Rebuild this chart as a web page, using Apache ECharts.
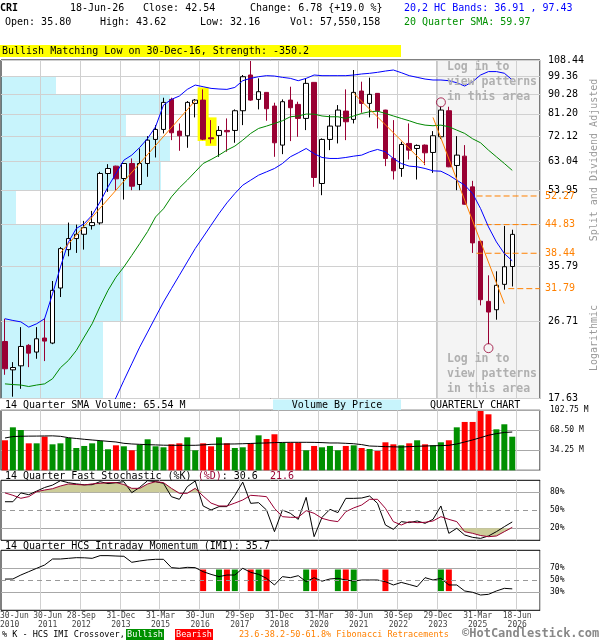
<!DOCTYPE html>
<html><head><meta charset="utf-8">
<script src="https://cdn.jsdelivr.net/npm/echarts@6.0.0/dist/echarts.min.js"></script>
<style>html,body{margin:0;padding:0;background:#fff;}#chart{width:600px;height:640px;}</style>
</head><body><div id="chart"></div>
<script>
// ---------------- DATA ----------------
const categories = ['30-Jun-10','30-Sep-10','31-Dec-10','31-Mar-11','30-Jun-11','30-Sep-11','30-Dec-11','30-Mar-12','29-Jun-12','28-Sep-12',
 '31-Dec-12','28-Mar-13','28-Jun-13','30-Sep-13','31-Dec-13','31-Mar-14','30-Jun-14','30-Sep-14','31-Dec-14','31-Mar-15',
 '30-Jun-15','30-Sep-15','31-Dec-15','31-Mar-16','30-Jun-16','30-Sep-16','30-Dec-16','31-Mar-17','30-Jun-17','29-Sep-17',
 '29-Dec-17','29-Mar-18','29-Jun-18','28-Sep-18','31-Dec-18','29-Mar-19','28-Jun-19','30-Sep-19','31-Dec-19','31-Mar-20',
 '30-Jun-20','30-Sep-20','31-Dec-20','31-Mar-21','30-Jun-21','30-Sep-21','31-Dec-21','31-Mar-22','30-Jun-22','30-Sep-22',
 '30-Dec-22','31-Mar-23','30-Jun-23','29-Sep-23','29-Dec-23','28-Mar-24','28-Jun-24','30-Sep-24','31-Dec-24','31-Mar-25',
 '30-Jun-25','30-Sep-25','31-Dec-25','31-Mar-26','18-Jun-26'];
const padCategories = ['p1','p2','p3'];
const labelIdx = [0,4,9,14,19,24,29,34,39,44,49,54,59,64];
const gridIdx = [4,9,14,19,24,29,34,39,44,49,54,59,64];

const open  = [23.94,20.56,21.01,23.45,22.62,24.39,23.74,31.90,39.20,41.59,42.56,44.59,45.24,58.97,61.35,57.41,62.23,55.59,62.23,70.80,74.71,87.77,74.04,72.21,85.91,87.45,71.43,72.34,74.30,74.30,82.59,100.05,87.77,91.14,84.69,68.68,87.45,85.45,79.26,96.17,55.89,70.80,76.06,82.44,78.84,91.80,85.91,90.66,82.89,63.93,60.58,69.30,67.45,68.68,66.02,71.82,82.59,61.57,64.73,54.89,40.99,29.69,28.39,32.53,35.80];
const close = [20.68,20.82,23.31,22.49,24.29,23.99,31.50,39.41,41.59,42.56,44.11,45.32,58.97,60.58,57.31,62.23,55.09,62.23,70.54,74.71,86.37,73.38,72.21,86.37,87.45,70.92,71.05,74.30,73.77,82.59,99.15,87.45,91.47,83.48,69.54,86.69,83.94,79.26,95.66,57.72,70.80,76.06,82.89,77.85,91.14,85.91,90.17,82.59,63.93,59.83,68.92,66.85,68.56,65.90,72.21,82.89,61.13,65.09,50.01,40.64,29.96,28.04,32.36,35.76,42.54];
const low   = [20.02,17.8,18.57,20.86,21.82,21.55,23.6,30.39,37.82,38.51,39.20,43.65,44.83,53.44,53.92,51.28,53.92,53.92,57.93,64.27,73.12,70.54,66.62,67.70,79.69,70.54,69.30,64.50,66.26,69.54,76.46,87.14,83.19,78.26,64.50,65.43,70.17,71.82,74.44,54.89,52.49,66.85,69.30,70.54,77.15,81.71,79.69,75.11,61.35,57.10,57.93,63.58,57.10,61.68,59.18,71.0,61.0,53.92,49.9,38.51,29.06,23.6,26.91,31.61,32.16];
const high  = [27.05,21.43,25.86,23.6,25.86,27.14,33.12,39.76,45.32,44.83,45.73,48.25,59.50,62.01,61.5,62.4,63.93,67.45,72.07,76.46,88.56,88.56,77.15,86.99,87.94,92.62,78.54,76.06,79.26,83.19,100.05,107.86,98.27,91.3,86.22,87.77,93.96,86.69,98.27,96.3,71.2,80.69,85.14,92.62,102.77,96.52,98.62,90.8,83.0,78.54,69.92,77.15,68.92,68.92,74.04,84.39,84.39,72.07,68.68,56.69,41.1,34.15,34.89,44.51,43.62];

const upperBand = [27.05,26.8,26.6,25.86,26.33,27.05,30.9,35.7,40.8,43.89,45.06,47.14,50.64,54.89,58.97,63.35,65.09,67.82,71.18,75.79,85.14,87.77,89.37,92.62,94.8,93.96,93.12,92.8,92.62,93.6,97.04,98.27,99.15,99.7,99.5,98.8,98.27,97.04,98.27,100.05,99.7,99.7,99.7,99.7,100.05,100.6,100.96,101.5,102.2,102.77,101.3,99.7,98.8,97.9,97.4,97.4,97.04,96.0,94.3,96.52,100.05,101.9,101.9,101.0,97.43];
const lowerBand = [null,null,null,null,null,null,null,null,null,null,null,null,null,16.5,17.7,19.42,21.24,23.23,25.18,27.30,29.58,31.79,34.15,36.69,39.41,41.95,44.67,47.56,50.37,52.96,55.39,56.9,58.45,59.5,60.58,62.2,64.5,65.9,67.45,65.6,64.27,63.93,63.93,64.27,64.73,65.09,66.26,67.1,66.26,63.93,62.23,61.35,61.13,60.58,59.83,59.7,58.45,56.9,55.39,52.96,48.86,44.28,40.85,38.37,36.91];
const sma20 = [19.07,19.0,18.95,18.8,18.95,19.07,19.6,20.8,21.62,22.81,24.52,26.33,28.9,31.5,33.8,35.71,38.0,40.48,43.2,46.71,48.8,52.02,54.6,56.9,59.5,62.23,63.58,65.09,66.85,68.31,70.54,73.12,75.11,76.06,77.15,78.26,79.96,80.3,81.12,81.1,80.3,79.96,79.96,79.26,80.3,81.4,82.14,82.4,81.4,80.3,79.26,78.26,77.15,76.46,76.2,76.46,75.79,74.44,73.12,71.05,69.54,66.85,64.5,62.23,59.97];

const trendLines = [[[7,38.51],[24,87.14]], [[44,90.66],[53,62.0]], [[54,79.69],[63,29.33]]];
const fibLevels = [52.27, 44.83, 38.44, 31.79];
const fibStart  = [59, 59, 59, 63];
const patternCircles = [[55, 86.4], [61, 23.1]];
const highlightBoxes = [[25, 93.6, 70.2], [26, 79.7, 68.4]];
const loginStart = 55;

const priceGrid   = [17.63, 26.71, 35.79, 44.87, 53.95, 63.04, 72.12, 81.20, 90.28, 99.36, 108.44];
const priceLabels = [17.63, 26.71, 35.79, 53.95, 63.04, 72.12, 81.20, 90.28, 99.36, 108.44];
const vbpVolume = [102, 122, 99, 15, 160, 169, 125, 169, 55, 0];   // relative volume per price bin

const volume = [51.4,73.6,69.0,46.2,46.2,57.7,44.5,46.2,55.4,38.2,41.7,46.2,50.2,36.0,42.8,41.1,34.25,44.0,53.1,41.1,39.4,44.5,46.2,56.5,34.25,46.2,41.1,56.5,46.2,38.2,39.4,46.2,59.9,53.6,61.7,47.4,47.4,47.4,34.25,41.7,39.4,41.7,34.25,41.7,42.8,38.2,36.5,33.1,47.95,44.5,42.8,46.2,51.4,44.5,42.8,47.95,51.4,73.6,82.8,82.8,101.6,95.9,70.2,78.8,57.55];
const volSma = [55.3,57.8,58.3,58.5,58.6,58.8,59.0,58.2,55.9,54.5,53.1,51.9,50.8,49.6,48.5,46.2,45.1,44.5,43.9,43.5,43.0,42.8,42.8,42.8,42.8,43.5,44.5,44.8,45.0,45.1,45.5,46.0,46.5,46.8,47.4,47.7,47.95,47.95,47.95,47.8,47.4,46.8,46.8,46.2,45.5,44.0,41.6,41.1,40.5,40.2,39.9,40.5,41.1,41.6,42.0,42.3,42.8,45.1,48.5,52.0,56.0,60.0,62.8,64.8,65.54];

const stochK = [64.3,64.3,79,76,82,88,92,99.4,96,94,92.5,92.7,97.7,94.5,96,97.7,79.4,88.3,99.4,97.7,95,72.7,68.3,89.4,98.8,57.2,50.5,56.1,56.1,75,97,61.6,62.7,50.5,14.4,50.5,45,34.9,71.6,6,38.3,51.6,46.1,69.9,69.9,70.5,73.8,61.6,25.5,18.3,31.1,29.4,32.2,28.3,34.9,57.2,11.6,20,8.8,4.9,3.2,7.2,14.4,22.7,30.6];
const stochD = [79,75,70,72.8,81,83.8,86,90.5,93.9,93,92.2,94,95,96.1,96.1,93,86.6,86.6,93.9,97.7,96.1,86.6,78.3,78.3,86.6,73.8,62,57.2,57.2,62,67.2,75,74,72.7,53.3,39.4,38.3,38.3,49.4,45,36.6,33,31.1,47.7,54,58.8,68.3,68.3,53.3,31.1,25.5,31.1,29.4,30,32.2,39.4,34.9,31.1,14.4,11.6,8,6,7.2,14.4,21.6];

const imi = [52,52.2,58.8,64.4,70,75.5,85.5,85.5,86.6,87.7,87.5,86.6,91.1,91.1,90.5,90,80,82.2,84,85,85,71.1,70,71.6,71.1,64.4,59.9,56.1,58.8,58.8,70,63.3,59.9,53.3,42.2,56.1,54.4,57.7,47.7,54.4,48.5,52.2,53.3,50.5,48.8,50.5,50.5,50.5,47.7,42.2,46.5,43,39.4,54.4,50.5,53.3,42.2,42.2,32.2,30,25.5,26.6,32.2,36.6,35.7];
const bullishX = [27,29,32,38,42,44,55];
const bearishX = [25,28,31,33,39,43,48,56];

// ---------------- CHART ----------------
const MONO = '"DejaVu Sans Mono", monospace';
const allCats = categories.concat(padCategories);
const gridSet = new Set(gridIdx);
const RED = '#990033';

function xAxisFor(gi) {
  return {
    type: 'category', gridIndex: gi, data: allCats, boundaryGap: true,
    axisLine: {show: false}, axisTick: {show: false}, axisLabel: {show: false},
    splitLine: {show: true, interval: (idx) => gridSet.has(idx - 1), lineStyle: {color: '#d0d0d0', width: 1}}
  };
}

function txt(x, y, text, fill, size, weight, align) {
  return {type: 'text', x: x, y: y, z: 100, silent: true,
    style: {text: text, fill: fill || '#000', font: (weight || 'normal') + ' ' + (size || 10) + 'px ' + MONO,
      verticalAlign: 'middle', align: align || 'left'}};
}

const candleData = open.map((o, i) => [o, close[i], low[i], high[i]]);
const volData = volume.map((v, i) => ({value: v, itemStyle: {color: close[i] >= open[i] ? '#009000' : '#ff0000'}}));
const vbpData = vbpVolume.map((v, i) => [0, priceGrid[i], priceGrid[i + 1], v]);
const vbpMax = Math.max.apply(null, vbpVolume);

const graphics = [
  txt(0, 8, 'CRI', '#000', 10, 'bold'),
  txt(70, 8, '18-Jun-26'),
  txt(143, 8, 'Close: 42.54'),
  txt(250, 8, 'Change: 6.78 {+19.0 %}'),
  txt(404, 8, '20,2 HC Bands: 36.91 , 97.43', '#0000ff'),
  txt(5, 22, 'Open: 35.80'),
  txt(100, 22, 'High: 43.62'),
  txt(200, 22, 'Low: 32.16'),
  txt(290, 22, 'Vol: 57,550,158'),
  txt(404, 22, '20 Quarter SMA: 59.97', '#009000'),
  {type: 'rect', z: 99, silent: true, shape: {x: 0, y: 45, width: 401, height: 12}, style: {fill: '#ffff00'}},
  txt(2, 51, 'Bullish Matching Low on 30-Dec-16, Strength: -350.2'),
  txt(447, 67, 'Log in to', '#b0b0b0', 11.5, 'bold'),
  txt(447, 82, 'view patterns', '#b0b0b0', 11.5, 'bold'),
  txt(447, 97, 'in this area', '#b0b0b0', 11.5, 'bold'),
  txt(447, 359, 'Log in to', '#b0b0b0', 11.5, 'bold'),
  txt(447, 374, 'view patterns', '#b0b0b0', 11.5, 'bold'),
  txt(447, 389, 'in this area', '#b0b0b0', 11.5, 'bold'),
  {type: 'text', x: 594, y: 160, rotation: Math.PI / 2, z: 100, silent: true,
    style: {text: 'Split and Dividend Adjusted', fill: '#999', font: '10px ' + MONO, align: 'center', verticalAlign: 'middle'}},
  {type: 'text', x: 594, y: 338, rotation: Math.PI / 2, z: 100, silent: true,
    style: {text: 'Logarithmic', fill: '#999', font: '10px ' + MONO, align: 'center', verticalAlign: 'middle'}},
  txt(5, 405, '14 Quarter SMA Volume: 65.54 M'),
  {type: 'rect', z: 99, silent: true, shape: {x: 273, y: 399.5, width: 128, height: 10.5}, style: {fill: '#c8f4fc'}},
  txt(337, 405, 'Volume By Price', '#000', 10, 'normal', 'center'),
  txt(430, 405, 'QUARTERLY CHART'),
  {type: 'text', x: 5, y: 476, z: 100, silent: true, style: {
    text: '{a|14 Quarter Fast Stochastic (%K) }{b|(%D)}{a|: 30.6  }{b|21.6}',
    font: '10px ' + MONO, verticalAlign: 'middle', align: 'left',
    rich: {a: {fill: '#000', font: '10px ' + MONO}, b: {fill: RED, font: '10px ' + MONO}}}},
  txt(5, 546, '14 Quarter HCS Intraday Momentum (IMI): 35.7'),
  txt(2, 635, '% K - HCS IMI Crossover,', '#000', 8.5),
  {type: 'rect', z: 99, silent: true, shape: {x: 126, y: 629, width: 38, height: 11}, style: {fill: '#009000'}},
  txt(145, 635, 'Bullish', '#fff', 8.5, 'normal', 'center'),
  {type: 'rect', z: 99, silent: true, shape: {x: 175, y: 629, width: 38, height: 11}, style: {fill: '#ff0000'}},
  txt(194, 635, 'Bearish', '#fff', 8.5, 'normal', 'center'),
  txt(239, 635, '23.6-38.2-50-61.8% Fibonacci Retracements', '#ff8000', 8.5),
  txt(462, 634, '\u00A9HotCandlestick.com', '#888', 12, 'bold')
];

const gridBase = {left: 1, width: 539, show: true, borderColor: '#000', borderWidth: 1, outerBoundsMode: 'none', containLabel: false};

const option = {
  animation: false,
  backgroundColor: '#fff',
  graphic: graphics,
  grid: [
    Object.assign({top: 60, height: 338.5}, gridBase),
    Object.assign({top: 410.3, height: 60}, gridBase),
    Object.assign({top: 480.3, height: 60}, gridBase),
    Object.assign({top: 550.3, height: 60}, gridBase)
  ],
  xAxis: [xAxisFor(0), xAxisFor(1), xAxisFor(2), xAxisFor(3)],
  yAxis: [
    {type: 'log', gridIndex: 0, position: 'right', min: 17.63, max: 108.44, logBase: 10,
      axisLine: {show: false}, axisTick: {show: false, customValues: priceGrid},
      axisLabel: {customValues: priceLabels, formatter: (v) => Number(v).toFixed(2), color: '#000',
        fontFamily: MONO, fontSize: 10, margin: 8, padding: [0, 0, 6, 0]},
      splitLine: {show: true, lineStyle: {color: '#d0d0d0', width: 1}}},
    {type: 'value', gridIndex: 1, position: 'right', min: 0, max: 102.75, interval: 34.25,
      axisLine: {show: false}, axisTick: {show: false},
      axisLabel: {formatter: (v) => v === 0 ? '' : v.toFixed(2) + ' M', fontSize: 8, fontFamily: MONO, color: '#000', margin: 10},
      splitLine: {show: true, lineStyle: {color: '#a8a8a8'}}},
    {type: 'value', gridIndex: 2, position: 'right', min: 0, max: 100,
      axisLine: {show: false}, axisTick: {show: false, customValues: [20, 80]},
      axisLabel: {customValues: [20, 50, 80], formatter: '{value}%', fontSize: 8, fontFamily: MONO, color: '#000', margin: 10},
      splitLine: {show: true, lineStyle: {color: '#a8a8a8'}}},
    {type: 'value', gridIndex: 3, position: 'right', min: 0, max: 100,
      axisLine: {show: false}, axisTick: {show: false, customValues: [30, 70]},
      axisLabel: {customValues: [30, 50, 70], formatter: '{value}%', fontSize: 8, fontFamily: MONO, color: '#000', margin: 10},
      splitLine: {show: true, lineStyle: {color: '#a8a8a8'}}}
  ],
  series: [
    {type: 'custom', xAxisIndex: 0, yAxisIndex: 0, z: -1, silent: true, data: vbpData,
      renderItem: (params, api) => {
        const cs = params.coordSys;
        const yLow = api.coord([0, api.value(1)])[1];
        const yHigh = api.coord([0, api.value(2)])[1];
        const w = api.value(3) / vbpMax * cs.width * 0.3135;
        return {type: 'rect', shape: {x: cs.x, y: yHigh, width: w, height: yLow - yHigh}, style: {fill: '#c8f4fc'}};
      }},
    {type: 'custom', xAxisIndex: 0, yAxisIndex: 0, z: -1, silent: true, data: [[loginStart, 50]],
      renderItem: (params, api) => {
        const cs = params.coordSys;
        const bw = api.size([1, 0])[0];
        const x = api.coord([api.value(0), api.value(1)])[0] - bw / 2;
        return {type: 'group', children: [
          {type: 'rect', shape: {x: x, y: cs.y, width: cs.x + cs.width - x, height: cs.height}, style: {fill: '#f4f4f4'}},
          {type: 'line', shape: {x1: x, y1: cs.y, x2: x, y2: cs.y + cs.height}, style: {stroke: '#999', lineWidth: 1}}
        ]};
      }},
    {type: 'custom', xAxisIndex: 0, yAxisIndex: 0, z: 1, silent: true, data: highlightBoxes,
      renderItem: (params, api) => {
        const p1 = api.coord([api.value(0), api.value(1)]);
        const p2 = api.coord([api.value(0), api.value(2)]);
        return {type: 'rect', shape: {x: p1[0] - 5.5, y: p1[1], width: 11, height: p2[1] - p1[1]}, style: {fill: '#ffff00'}};
      }},
    {type: 'candlestick', xAxisIndex: 0, yAxisIndex: 0, data: candleData, barWidth: 5,
      itemStyle: {color: '#ffffff', color0: RED, borderColor: '#000000', borderColor0: RED, borderWidth: 1}},
    {type: 'line', xAxisIndex: 0, yAxisIndex: 0, data: upperBand, symbol: 'none', lineStyle: {color: '#0000ff', width: 1}},
    {type: 'line', xAxisIndex: 0, yAxisIndex: 0, data: lowerBand, symbol: 'none', lineStyle: {color: '#0000ff', width: 1}},
    {type: 'line', xAxisIndex: 0, yAxisIndex: 0, data: sma20, symbol: 'none', lineStyle: {color: '#008800', width: 1}},
    ...trendLines.map(t => ({type: 'line', xAxisIndex: 0, yAxisIndex: 0, data: t, symbol: 'none',
      lineStyle: {color: '#ff8000', width: 1}})),
    {type: 'custom', xAxisIndex: 0, yAxisIndex: 0, z: 3, silent: true,
      data: fibLevels.map((v, i) => [fibStart[i], v]),
      renderItem: (params, api) => {
        const cs = params.coordSys;
        const bw = api.size([1, 0])[0];
        const p = api.coord([api.value(0), api.value(1)]);
        const x0 = p[0] + bw / 2, x1 = cs.x + cs.width;
        return {type: 'group', children: [
          {type: 'line', shape: {x1: x0, y1: p[1], x2: x1, y2: p[1]}, style: {stroke: '#ff8000', lineWidth: 1, lineDash: [6, 3]}},
          {type: 'text', x: x1 + 5, y: p[1], style: {text: api.value(1).toFixed(2), fill: '#ff8000', font: '10px ' + MONO, verticalAlign: 'middle', align: 'left'}}
        ]};
      }},
    {type: 'scatter', xAxisIndex: 0, yAxisIndex: 0, data: patternCircles, symbol: 'circle', symbolSize: 9,
      itemStyle: {color: 'rgba(0,0,0,0)', borderColor: RED, borderWidth: 1}},
    {type: 'bar', xAxisIndex: 1, yAxisIndex: 1, data: volData, barWidth: 6},
    {type: 'line', xAxisIndex: 1, yAxisIndex: 1, data: volSma, symbol: 'none', lineStyle: {color: '#000', width: 1}},
    {type: 'line', xAxisIndex: 2, yAxisIndex: 2, data: stochD.map(v => Math.max(v, 80)), symbol: 'none',
      lineStyle: {width: 0, opacity: 0}, areaStyle: {color: '#cccc99', origin: 80, opacity: 1}},
    {type: 'line', xAxisIndex: 2, yAxisIndex: 2, data: stochD.map(v => Math.min(v, 20)), symbol: 'none',
      lineStyle: {width: 0, opacity: 0}, areaStyle: {color: '#cccc99', origin: 20, opacity: 1}},
    {type: 'line', xAxisIndex: 2, yAxisIndex: 2, data: stochK, symbol: 'none', lineStyle: {color: '#000', width: 1},
      markLine: {silent: true, symbol: 'none', label: {show: false}, lineStyle: {color: '#999', type: [5, 4], width: 1}, data: [{yAxis: 50}]}},
    {type: 'line', xAxisIndex: 2, yAxisIndex: 2, data: stochD, symbol: 'none', lineStyle: {color: RED, width: 1}},
    {type: 'custom', xAxisIndex: 3, yAxisIndex: 3, silent: true,
      data: bullishX.map(x => [x, 1]).concat(bearishX.map(x => [x, 0])),
      renderItem: (params, api) => {
        const p1 = api.coord([api.value(0), 68]);
        const p2 = api.coord([api.value(0), 32]);
        return {type: 'rect', shape: {x: p1[0] - 3, y: p1[1], width: 6, height: p2[1] - p1[1]},
          style: {fill: api.value(1) === 1 ? '#009000' : '#ff0000'}};
      }},
    {type: 'line', xAxisIndex: 3, yAxisIndex: 3, data: imi, symbol: 'none', lineStyle: {color: '#000', width: 1},
      markLine: {silent: true, symbol: 'none', label: {show: false}, lineStyle: {color: '#999', type: [5, 4], width: 1}, data: [{yAxis: 50}]}},
    // date tick labels under the bottom panel, placed at the grid-line boundaries
    {type: 'custom', xAxisIndex: 3, yAxisIndex: 3, silent: true, clip: false,
      data: labelIdx.map(i => [i, 50]),
      renderItem: (params, api) => {
        const cs = params.coordSys;
        const bw = api.size([1, 0])[0];
        const idx = api.value(0);
        const p = api.coord([idx, 50]);
        const m = categories[idx].split('-');
        let x = p[0] + bw / 2 + 1, align = 'center';
        if (params.dataIndex === 0) { x = 0; align = 'left'; }
        else if (params.dataIndex === 1) { x = p[0] + bw / 2 + 7; }
        return {type: 'text', x: x, y: cs.y + cs.height + 1.5,
          style: {text: m[0] + '-' + m[1] + '\n20' + m[2], fill: '#444', font: '8px ' + MONO,
            align: align, verticalAlign: 'top', lineHeight: 9}};
      }}
  ]
};

const chart = echarts.init(document.getElementById('chart'));
chart.setOption(option);
</script></body></html>
